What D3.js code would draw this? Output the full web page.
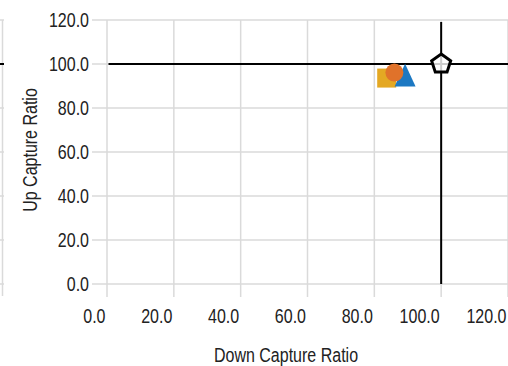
<!DOCTYPE html>
<html><head><meta charset="utf-8">
<script src="https://cdn.jsdelivr.net/npm/d3@7"></script>
<style>
html,body{margin:0;padding:0;background:#fff;}
text{font-family:"Liberation Sans",Arial,sans-serif;fill:#222;}
</style></head>
<body>
<svg id="chart" width="508" height="366"></svg>
<script>
// Data
const seriesNames = ["Fund A", "Fund B", "Fund C", "Benchmark"];
const downCapture = [83.7, 89.2, 86.0, 100.0];
const upCapture   = [93.6, 93.2, 96.1, 100.0];
const seriesColors = ["#E4A823", "#1C78C2", "#E0722A", "#ffffff"];
const seriesShapes = ["square", "triangle", "circle", "pentagon"];
const xTicks = [0, 20, 40, 60, 80, 100, 120];
const yTicks = [0, 20, 40, 60, 80, 100, 120];
const xTitle = "Down Capture Ratio";
const yTitle = "Up Capture Ratio";
const refX = 100, refY = 100;

const svg = d3.select("#chart");
const x = d3.scaleLinear().domain([0, 120]).range([107, 508]);
const y = d3.scaleLinear().domain([0, 120]).range([284, 20]);
const fmt = d3.format(".1f");
const grid = "#dadada";
const NARROW = 0.8, FS = 20;

// left fragment (edge of neighbouring panel)
svg.append("line").attr("x1", 2.5).attr("x2", 2.5).attr("y1", y(120)).attr("y2", 296)
  .attr("stroke", grid).attr("stroke-width", 1.5);
svg.selectAll(".lstub").data(yTicks).join("line")
  .attr("x1", 0).attr("x2", 4).attr("y1", d => y(d)).attr("y2", d => y(d))
  .attr("stroke", d => d === refY ? "#000" : grid).attr("stroke-width", d => d === refY ? 2 : 1.5);

// horizontal gridlines + y ticks
svg.selectAll(".hg").data(yTicks).join("line")
  .attr("x1", 92).attr("x2", 508).attr("y1", d => y(d)).attr("y2", d => y(d))
  .attr("stroke", grid).attr("stroke-width", 1.5);
// vertical gridlines + x ticks
svg.selectAll(".vg").data(xTicks).join("line")
  .attr("x1", d => x(d)).attr("x2", d => x(d)).attr("y1", y(120)).attr("y2", 297)
  .attr("stroke", grid).attr("stroke-width", 1.5);

// tick labels
svg.selectAll(".yl").data(yTicks).join("text")
  .attr("transform", d => `translate(89,${y(d)}) scale(${NARROW},1)`).attr("dy", "0.36em")
  .attr("text-anchor", "end").attr("font-size", FS).text(d => fmt(d));
svg.selectAll(".xl").data(xTicks).join("text")
  .attr("transform", d => `translate(${x(d) - 1.5},323) scale(${NARROW},1)`)
  .attr("text-anchor", "end").attr("font-size", FS).text(d => fmt(d));

// titles
svg.append("text").attr("transform", `translate(286,361.5) scale(${NARROW},1)`).attr("text-anchor", "middle")
  .attr("font-size", FS).text(xTitle);
svg.append("text").attr("transform", `translate(37,150) rotate(-90) scale(${NARROW},1)`).attr("text-anchor", "middle")
  .attr("font-size", FS).text(yTitle);

// reference crosshair
svg.append("line").attr("x1", x(0) + 1.5).attr("x2", 508).attr("y1", y(refY)).attr("y2", y(refY))
  .attr("stroke", "#000").attr("stroke-width", 2);
svg.append("line").attr("x1", x(refX)).attr("x2", x(refX)).attr("y1", y(120) + 2).attr("y2", y(0))
  .attr("stroke", "#000").attr("stroke-width", 2);

// custom symbols
const pentagon = { draw(ctx, size) {
  const r = Math.sqrt(size / 2.3776);
  for (let i = 0; i < 5; i++) {
    const a = -Math.PI / 2 + i * 2 * Math.PI / 5;
    const px = r * Math.cos(a), py = r * Math.sin(a);
    if (i === 0) ctx.moveTo(px, py); else ctx.lineTo(px, py);
  }
  ctx.closePath();
}};
const tri = { draw(ctx, size) {
  const h = Math.sqrt(size * 2 * 23 / 21), w = h * 21 / 23;
  ctx.moveTo(0, -2 * h / 3); ctx.lineTo(w / 2, h / 3); ctx.lineTo(-w / 2, h / 3); ctx.closePath();
}};
const shapeType = { square: d3.symbolSquare, circle: d3.symbolCircle, triangle: tri, pentagon: pentagon };
const shapeSize = { square: 361, circle: 254, triangle: 241, pentagon: 238 };

const pts = seriesNames.map((n, i) => ({ n, dx: downCapture[i], uy: upCapture[i], c: seriesColors[i], s: seriesShapes[i] }));
svg.selectAll(".pt").data(pts).join("path")
  .attr("transform", d => `translate(${x(d.dx)},${y(d.uy)})`)
  .attr("d", d => d3.symbol().type(shapeType[d.s]).size(shapeSize[d.s])())
  .attr("fill", d => d.c)
  .attr("fill-opacity", d => d.s === "pentagon" ? 0.8 : 1)
  .attr("stroke", d => d.s === "pentagon" ? "#000" : "none")
  .attr("stroke-width", 3)
  .attr("stroke-linejoin", "miter");
</script>
</body></html>
